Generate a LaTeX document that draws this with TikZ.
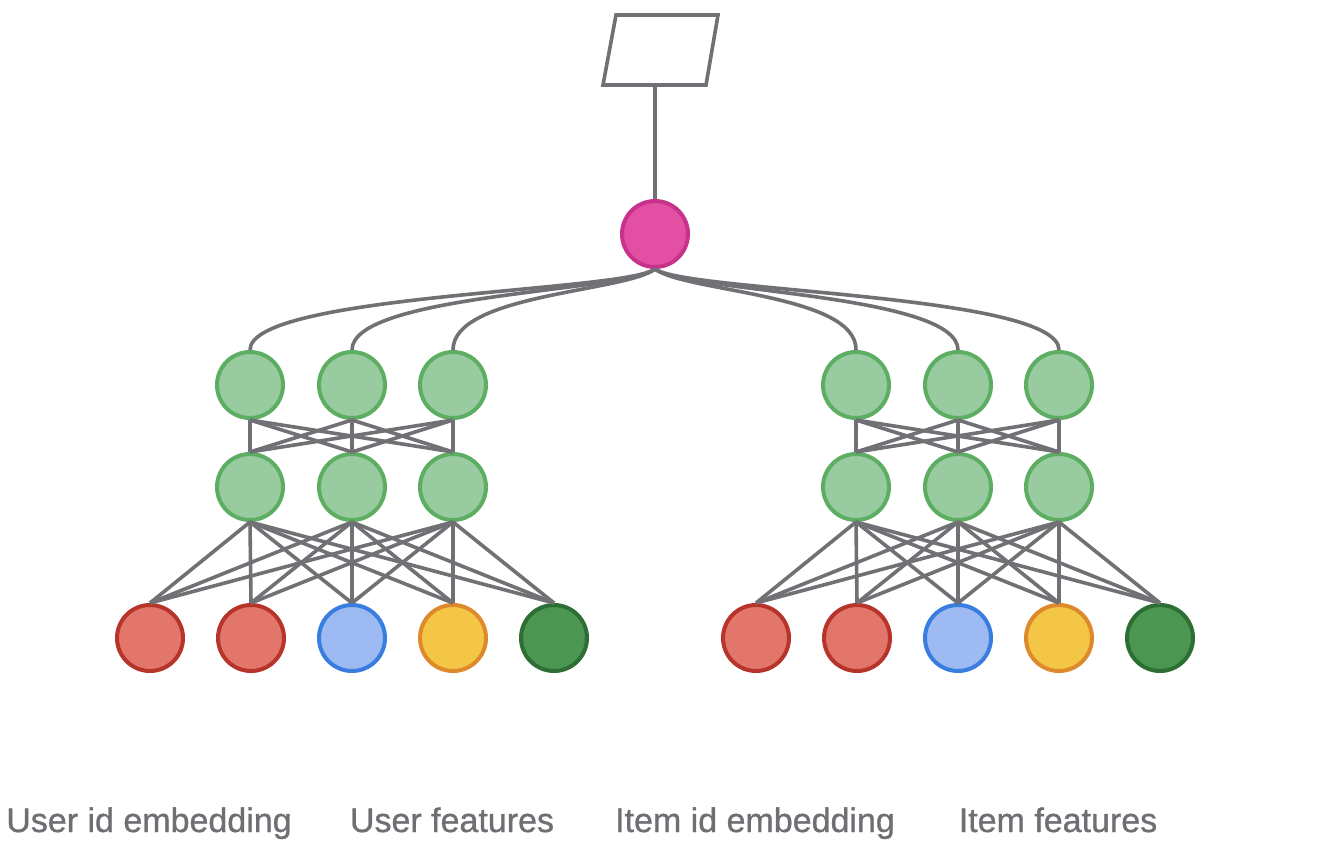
\documentclass[tikz,border=0pt]{standalone}
\usepackage{fontspec}
\setmainfont{Liberation Sans}
\newfontfamily\labfont[FakeBold=0.9]{Liberation Sans}
\definecolor{edge}{RGB}{112,112,117}
\definecolor{txt}{RGB}{110,110,115}
\definecolor{pinkf}{RGB}{227,79,163}
\definecolor{pinkd}{RGB}{200,50,140}
\definecolor{greenf}{RGB}{153,203,160}
\definecolor{greend}{RGB}{93,173,98}
\definecolor{redf}{RGB}{226,118,107}
\definecolor{redd}{RGB}{183,52,43}
\definecolor{bluef}{RGB}{157,187,242}
\definecolor{blued}{RGB}{58,125,224}
\definecolor{yelf}{RGB}{243,198,69}
\definecolor{yeld}{RGB}{222,137,44}
\definecolor{dgf}{RGB}{75,150,80}
\definecolor{dgd}{RGB}{45,110,52}
\tikzset{
  unit/.style={circle,minimum size=33pt,inner sep=0pt,line width=2pt},
  pinknode/.style={unit,fill=pinkf,draw=pinkd},
  hid/.style={unit,fill=greenf,draw=greend},
  redin/.style={unit,fill=redf,draw=redd},
  bluein/.style={unit,fill=bluef,draw=blued},
  yelin/.style={unit,fill=yelf,draw=yeld},
  dgin/.style={unit,fill=dgf,draw=dgd},
  conn/.style={draw=edge,line width=1.8pt},
  lab/.style={text=txt,font=\labfont\fontsize{17pt}{20pt}\selectfont,inner sep=0pt,anchor=base}
}
\begin{document}
\begin{tikzpicture}[x=0.5pt,y=-0.5pt]
\useasboundingbox (0,0) rectangle (1326,856);
% output parallelogram
\draw[conn,line join=miter] (616,15) -- (718,15) -- (706,85) -- (603,85) -- cycle;
\coordinate (out) at (655,85);
\node[pinknode] (p) at (655,234) {};
\draw[conn] (out) -- (p.north);
% towers
\foreach \s/\o in {L/0,R/606}{
  \foreach \i/\x in {1/250,2/352,3/453}{
    \node[hid] (\s t\i) at ({\x+\o},385) {};
    \node[hid] (\s m\i) at ({\x+\o},487) {};
  }
  \node[redin] (\s b1) at ({150+\o},638) {};
  \node[redin] (\s b2) at ({251+\o},638) {};
  \node[bluein] (\s b3) at ({352+\o},638) {};
  \node[yelin] (\s b4) at ({453+\o},638) {};
  \node[dgin] (\s b5) at ({554+\o},638) {};
}
% connections
\foreach \s in {L,R}{
  \foreach \i in {1,2,3}{
    \foreach \j in {1,2,3}{
      \draw[conn] (\s t\i.south) -- (\s m\j.north);
    }
    \foreach \k in {1,...,5}{
      \draw[conn] (\s m\i.south) -- (\s b\k.north);
    }
  }
}
% curves to combiner
\foreach \n/\c in {Lt1/250,Lt2/352,Lt3/453}{
  \draw[conn] (p.south) .. controls (625,292) and (\c,294) .. (\n.north);
}
\foreach \n/\c in {Rt1/857,Rt2/958,Rt3/1059}{
  \draw[conn] (p.south) .. controls (685,292) and (\c,294) .. (\n.north);
}
% labels
\node[lab] (l1) at (149,832) {User id embedding};
\node[lab] (l2) at (452,832) {User features};
\node[lab] (l3) at (755,832) {Item id embedding};
\node[lab] (l4) at (1058,832) {Item features};
\end{tikzpicture}
\end{document}
